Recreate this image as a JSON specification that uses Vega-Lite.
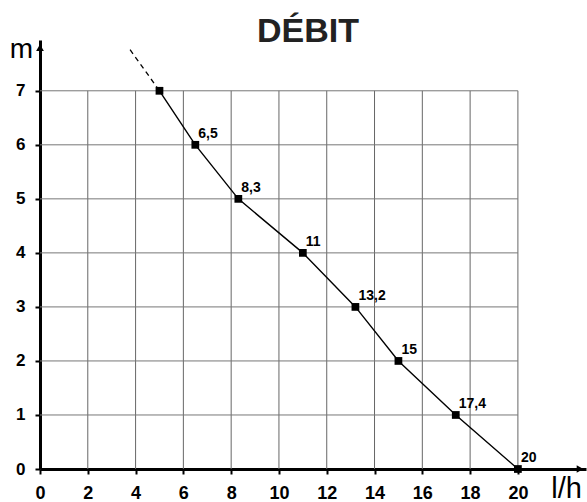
{
  "$schema": "https://vega.github.io/schema/vega-lite/v6.json",
  "autosize": {"type": "none"},
  "width": 546,
  "height": 429,
  "padding": {"left": 40, "top": 40, "right": 1, "bottom": 33},
  "background": "white",
  "title": {"text": "DÉBIT", "font": "Liberation Sans", "fontSize": 34, "fontWeight": "bold", "color": "#222", "anchor": "middle", "offset": -14, "dx": -5},
  "config": {"view": {"stroke": null}},
  "datasets": {
    "pts": [
      {"x": 5, "y": 7, "lab": ""},
      {"x": 6.5, "y": 6, "lab": "6,5"},
      {"x": 8.3, "y": 5, "lab": "8,3"},
      {"x": 11, "y": 4, "lab": "11"},
      {"x": 13.2, "y": 3, "lab": "13,2"},
      {"x": 15, "y": 2, "lab": "15"},
      {"x": 17.4, "y": 1, "lab": "17,4"},
      {"x": 20, "y": 0, "lab": "20"}
    ],
    "ext": [
      {"x": 3.77, "y": 7.76},
      {"x": 5, "y": 7}
    ],
    "gridx": [
      {"x": 2, "y": 0, "y2": 7}, {"x": 4, "y": 0, "y2": 7}, {"x": 6, "y": 0, "y2": 7},
      {"x": 8, "y": 0, "y2": 7}, {"x": 10, "y": 0, "y2": 7}, {"x": 12, "y": 0, "y2": 7},
      {"x": 14, "y": 0, "y2": 7}, {"x": 16, "y": 0, "y2": 7}, {"x": 18, "y": 0, "y2": 7},
      {"x": 20, "y": 0, "y2": 7}
    ],
    "gridy": [
      {"x": 0, "x2": 20, "y": 1}, {"x": 0, "x2": 20, "y": 2}, {"x": 0, "x2": 20, "y": 3},
      {"x": 0, "x2": 20, "y": 4}, {"x": 0, "x2": 20, "y": 5}, {"x": 0, "x2": 20, "y": 6},
      {"x": 0, "x2": 20, "y": 7}
    ],
    "arrows": [
      {"x": 22.6, "y": 0, "dir": "right"},
      {"x": 0, "y": 7.8, "dir": "up"}
    ]
  },
  "encoding": {
    "x": {
      "field": "x", "type": "quantitative",
      "scale": {"domain": [0, 22.85], "nice": false, "zero": false},
      "axis": {
        "values": [0, 2, 4, 6, 8, 10, 12, 14, 16, 18, 20],
        "grid": false, "domainColor": "black", "domainWidth": 3,
        "tickColor": "black", "tickSize": 5, "tickWidth": 2,
        "labelFont": "Liberation Sans", "labelFontWeight": "bold", "labelFontSize": 18,
        "labelColor": "black", "labelPadding": 10, "labelFlush": false,
        "title": "l/h", "titleFont": "Liberation Sans", "titleFontSize": 29,
        "titleFontWeight": "normal", "titleColor": "black",
        "titleX": 526, "titleY": 28, "titleAlign": "center", "titleBaseline": "alphabetic"
      }
    },
    "y": {
      "field": "y", "type": "quantitative",
      "scale": {"domain": [0, 7.94], "nice": false, "zero": false},
      "axis": {
        "values": [0, 1, 2, 3, 4, 5, 6, 7],
        "grid": false, "domainColor": "black", "domainWidth": 3,
        "tickColor": "black", "tickSize": 5, "tickWidth": 2,
        "labelFont": "Liberation Sans", "labelFontWeight": "bold", "labelFontSize": 17,
        "labelColor": "black", "labelPadding": 10, "labelFlush": false,
        "title": "m", "titleFont": "Liberation Sans", "titleFontSize": 28,
        "titleFontWeight": "normal", "titleColor": "black", "titleAngle": 0,
        "titleX": -19, "titleY": 17, "titleAlign": "center", "titleBaseline": "alphabetic"
      }
    }
  },
  "layer": [
    {
      "data": {"name": "gridx"},
      "mark": {"type": "rule", "color": "#666", "strokeWidth": 1},
      "encoding": {"y2": {"field": "y2"}}
    },
    {
      "data": {"name": "gridy"},
      "mark": {"type": "rule", "color": "#777", "strokeWidth": 1},
      "encoding": {"x2": {"field": "x2"}}
    },
    {
      "data": {"name": "ext"},
      "mark": {"type": "line", "color": "black", "strokeWidth": 1.3, "strokeDash": [5, 4]},
      "encoding": {}
    },
    {
      "data": {"name": "pts"},
      "mark": {"type": "line", "color": "black", "strokeWidth": 1.4},
      "encoding": {}
    },
    {
      "data": {"name": "pts"},
      "mark": {"type": "point", "shape": "square", "filled": true, "color": "black", "size": 60, "opacity": 1},
      "encoding": {}
    },
    {
      "data": {"name": "pts"},
      "mark": {"type": "text", "align": "left", "baseline": "alphabetic", "dx": 3, "dy": -7, "font": "Liberation Sans", "fontWeight": "bold", "fontSize": 14, "color": "black"},
      "encoding": {"text": {"field": "lab"}}
    },
    {
      "data": {"name": "arrows"},
      "mark": {"type": "point", "filled": true, "color": "black", "size": 60, "opacity": 1},
      "encoding": {
        "shape": {"field": "dir", "type": "nominal", "scale": {"domain": ["right", "up"], "range": ["triangle-right", "triangle-up"]}, "legend": null}
      }
    }
  ]
}
